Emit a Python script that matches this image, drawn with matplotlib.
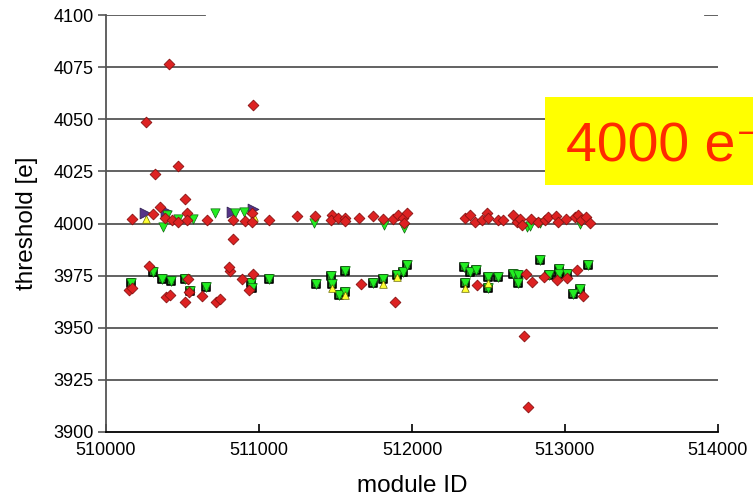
import matplotlib
matplotlib.use('Agg')
import matplotlib.pyplot as plt
from matplotlib.patches import Rectangle

plt.rcParams['font.family'] = ['Liberation Sans', 'DejaVu Sans']

# red diamonds: module ID / threshold
red_id = [510412, 510261, 510961, 510471, 510320, 512758, 512732,
          510170, 510353, 510307, 510386, 510431, 510471, 510516, 510529, 510529,
          510660, 510830, 510909, 510954, 510954, 511065, 511248, 510830,
          511366, 511477, 511471, 511516, 511562, 511562, 511654, 511745, 511810,
          511876, 511908, 511941, 511967, 511948,
          512346, 512379, 512412, 512458, 512490, 512497, 512562, 512595, 512660,
          512686, 512706, 512719, 512778, 512824, 512869, 512889, 512941, 512954,
          513007, 513065, 513085, 513105, 513137, 513163,
          510150, 510170, 510281, 510392, 510418, 510516, 510536, 510542, 510628,
          510719, 510745, 510811, 510804, 510889, 510960, 510935,
          511667, 511889,
          512425, 512745, 512784, 512863, 512948, 513013, 513078, 513118]
red_thr = [4076.5, 4048.7, 4056.8, 4027.6, 4023.7, 3912.0, 3946.0,
           4002.2, 4007.9, 4004.6, 4002.6, 4001.7, 4000.7, 4011.8, 4005.0, 4001.7,
           4001.7, 4001.7, 4001.2, 4005.0, 4000.7, 4001.7, 4003.6, 3992.6,
           4003.6, 4004.1, 4001.7, 4002.6, 4002.6, 4001.2, 4002.6, 4003.6, 4002.2,
           4002.2, 4004.1, 4002.6, 4005.0, 4000.2,
           4002.6, 4004.1, 4000.7, 4001.7, 4005.0, 4002.6, 4001.7, 4001.7, 4004.1,
           4000.7, 4002.2, 3999.3, 4002.2, 4000.7, 4001.7, 4003.1, 4003.6, 4000.7,
           4002.2, 4003.1, 4004.1, 4001.7, 4003.1, 4000.2,
           3968.0, 3969.0, 3979.6, 3964.8, 3965.7, 3962.4, 3973.4, 3967.0, 3965.0,
           3962.4, 3963.8, 3977.0, 3979.0, 3973.4, 3975.8, 3968.0,
           3971.0, 3962.4,
           3970.5, 3975.8, 3972.0, 3974.3, 3972.9, 3973.9, 3977.7, 3965.0]

# green squares with triangles (lower band)
green_sq_id = [510163, 510307, 510366, 510425, 510516, 510549, 510654, 510948, 510954,
               511065, 511373, 511471, 511477, 511562, 511523, 511562, 511745, 511810,
               511902, 511941, 511967, 512340, 512346, 512379, 512418, 512497, 512497,
               512562, 512660, 512693, 512693, 512837, 512895, 512961, 512961, 513013,
               513052, 513098, 513150]
green_sq_thr = [3971.5, 3976.7, 3973.4, 3972.4, 3973.4, 3967.6, 3969.6, 3971.5, 3969.0,
                3973.4, 3971.0, 3974.8, 3971.0, 3977.2, 3965.7, 3967.0, 3971.5, 3973.4,
                3975.3, 3976.7, 3980.0, 3979.0, 3971.5, 3976.7, 3977.7, 3974.3, 3969.0,
                3974.3, 3975.8, 3975.3, 3971.5, 3982.5, 3975.3, 3978.2, 3975.8, 3975.8,
                3966.2, 3968.5, 3980.0]

# green triangles in the 4000 band
green_tri_id = [510373, 510399, 510471, 510569, 510712, 510843, 510902, 511359, 511817,
                511948, 512752, 512771, 512837, 513098]
green_tri_thr = [3998.3, 4004.1, 4002.2, 4002.2, 4005.0, 4005.0, 4005.5, 4000.2, 3999.3,
                 3997.8, 3998.3, 3998.8, 4000.2, 3999.8]

# yellow triangles
yellow_id = [510261, 510967, 511810, 511562, 511477, 511902, 512346, 512497]
yellow_thr = [4002.2, 4003.1, 3971.0, 3965.7, 3969.0, 3974.3, 3969.0, 3971.5]

# purple triangles
purple_id = [510255, 510392, 510961, 510824]
purple_thr = [4005.0, 4006.0, 4007.0, 4005.5]

fig = plt.figure(figsize=(7.53, 4.97), dpi=100)
ax = fig.add_axes([0.1408, 0.1308, 0.8127, 0.839])

for y in [4075, 4050, 4025, 4000, 3975, 3950, 3925]:
    ax.axhline(y, color='#555555', lw=1.3, zorder=0)
ax.axhline(4100, xmin=0, xmax=0.162, color='#555555', lw=1.3, zorder=0)
ax.axhline(4100, xmin=0.979, xmax=1, color='#555555', lw=1.3, zorder=0)

ax.scatter(green_sq_id, green_sq_thr, marker='s', s=32, c='#228822',
           edgecolors='black', linewidths=1.2, zorder=2)
ax.scatter(green_sq_id, green_sq_thr, marker='v', s=48, c='#22ee22',
           edgecolors='#116611', linewidths=0.5, zorder=3)
ax.scatter(yellow_id, yellow_thr, marker='^', s=30, c='#ffff33',
           edgecolors='#666600', linewidths=0.5, zorder=4)
ax.scatter(purple_id, purple_thr, marker='>', s=60, c='#553388',
           edgecolors='#332255', linewidths=0.6, zorder=2)
ax.scatter(green_tri_id, green_tri_thr, marker='v', s=45, c='#22ee22',
           edgecolors='#116611', linewidths=0.5, zorder=3)
ax.scatter(red_id, red_thr, marker='D', s=30, c='#dd2222',
           edgecolors='#881111', linewidths=0.6, zorder=5)

ax.set_xlim(510000, 514000)
ax.set_ylim(3900, 4100)
ax.set_xticks([510000, 511000, 512000, 513000, 514000])
ax.set_yticks([3900, 3925, 3950, 3975, 4000, 4025, 4050, 4075, 4100])
ax.spines['top'].set_visible(False)
ax.spines['right'].set_visible(False)
ax.spines['left'].set_color('#555555')
ax.spines['left'].set_linewidth(1.3)
ax.spines['bottom'].set_linewidth(1.3)
ax.tick_params(axis='y', direction='out', length=6, labelsize=13, color='#555555',
               width=1.2, pad=3)
ax.tick_params(axis='x', direction='in', length=6, labelsize=13, width=1.2, pad=7)
ax.set_xlabel('module ID', fontsize=17.5, labelpad=12)
ax.set_ylabel('threshold [e]', fontsize=17.5, labelpad=11)

fig.patches.append(Rectangle((0.7238, 0.6278), 0.3, 0.177, transform=fig.transFigure,
                             facecolor='#ffff00', edgecolor='none', zorder=10))
fig.text(0.752, 0.675, '4000 e\u207b', fontsize=40, color='#ff2a00', zorder=11)

fig.savefig('out.png', dpi=100)
